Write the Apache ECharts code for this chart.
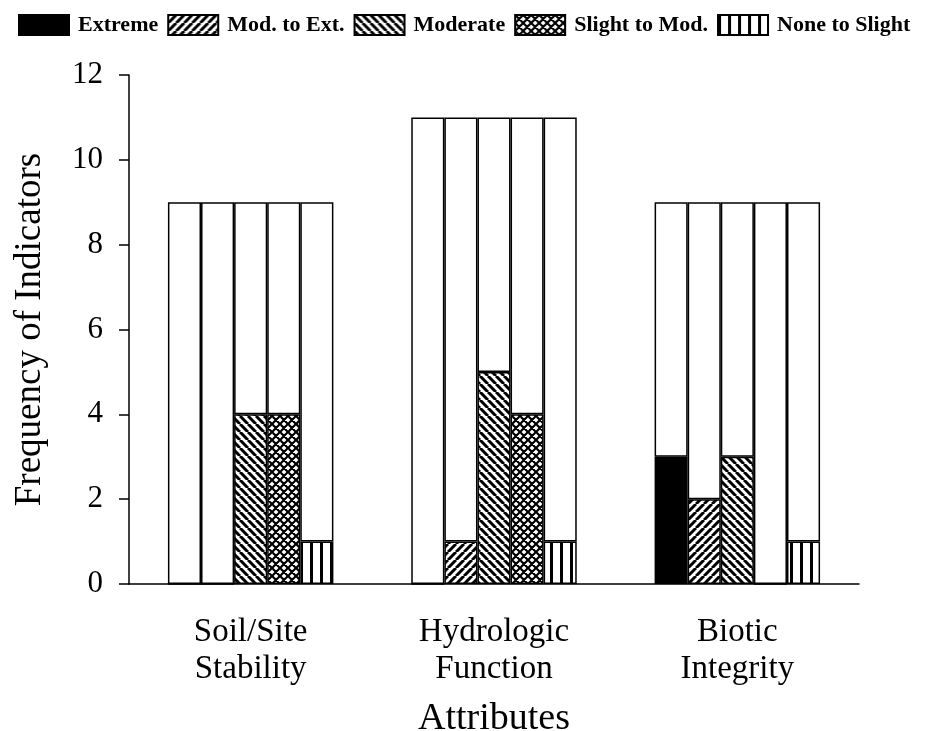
<!DOCTYPE html>
<html>
<head>
<meta charset="utf-8">
<script src="https://cdn.jsdelivr.net/npm/echarts@6/dist/echarts.min.js"></script>
<style>
html,body{margin:0;padding:0;background:#fff;}
#chart{width:927px;height:731px;}
</style>
</head>
<body>
<div id="chart"></div>
<script>
// ---- data ----
const categories = ['Soil/Site\nStability', 'Hydrologic\nFunction', 'Biotic\nIntegrity'];
const totals = [9, 11, 9];
const levels = ['Extreme', 'Mod. to Ext.', 'Moderate', 'Slight to Mod.', 'None to Slight'];
const extreme = [0, 0, 3];
const modToExt = [0, 1, 2];
const moderate = [4, 5, 3];
const slightToMod = [4, 4, 0];
const noneToSlight = [1, 1, 1];
const yTicks = [0, 2, 4, 6, 8, 10, 12];

const values = [extreme, modToExt, moderate, slightToMod, noneToSlight];

function makePattern(kind) {
  const c = document.createElement('canvas');
  let w = 8, h = 8;
  if (kind === 'x') { w = h = 8; }
  if (kind === '|') { w = 10; h = 4; }
  c.width = w; c.height = h;
  const ctx = c.getContext('2d');
  ctx.fillStyle = '#fff';
  ctx.fillRect(0, 0, w, h);
  ctx.strokeStyle = '#000';
  ctx.fillStyle = '#000';
  if (kind === '|') {
    ctx.fillRect(0, 0, 3, h);
  } else {
    ctx.lineWidth = kind === 'x' ? 2.2 : 3;
    ctx.beginPath();
    for (let k = -1; k <= 1; k++) {
      if (kind === '/' || kind === 'x') {
        ctx.moveTo(k * w, h); ctx.lineTo(k * w + w, 0);
      }
      if (kind === '\\' || kind === 'x') {
        ctx.moveTo(k * w, 0); ctx.lineTo(k * w + w, h);
      }
    }
    ctx.stroke();
  }
  return { image: c, repeat: 'repeat' };
}

const fills = ['#000', makePattern('/'), makePattern('\\'), makePattern('x'), makePattern('|')];

const series = [];
levels.forEach((name, i) => {
  series.push({
    name: name, type: 'bar', stack: 's' + i,
    data: values[i],
    barGap: '0%', barCategoryGap: '32%',
    itemStyle: { color: fills[i], borderColor: '#000', borderWidth: 1.5 },
    emphasis: { disabled: true }
  });
  series.push({
    name: 'rest' + i, type: 'bar', stack: 's' + i,
    data: totals.map((t, j) => t - values[i][j]),
    barGap: '0%', barCategoryGap: '32%',
    itemStyle: { color: '#fff', borderColor: '#000', borderWidth: 1.5 },
    emphasis: { disabled: true }
  });
});

const font = 'Liberation Serif';
const chart = echarts.init(document.getElementById('chart'), null, { renderer: 'canvas' });
chart.setOption({
  animation: false,
  backgroundColor: '#fff',
  legend: {
    data: levels,
    left: 13, top: 9,
    itemWidth: 50, itemHeight: 20, itemGap: 9,
    icon: 'rect',
    textStyle: { fontFamily: font, fontWeight: 'bold', fontSize: 22, color: '#000', padding: [0, 0, 0, 4] }
  },
  grid: { left: 129, right: 68, top: 75, bottom: 147, containLabel: false, outerBoundsMode: 'none' },
  xAxis: {
    type: 'category',
    data: categories,
    name: 'Attributes',
    nameLocation: 'middle',
    nameGap: 116,
    nameTextStyle: { fontFamily: font, fontSize: 38, color: '#000' },
    axisLine: { lineStyle: { color: '#000', width: 1.5 } },
    axisTick: { alignWithLabel: true, length: 8, lineStyle: { color: '#000', width: 1.5 } },
    axisLabel: { fontFamily: font, fontSize: 33, lineHeight: 37, color: '#000', margin: 30 }
  },
  yAxis: {
    type: 'value',
    min: yTicks[0], max: yTicks[yTicks.length - 1], interval: 2,
    name: 'Frequency of Indicators',
    nameLocation: 'middle',
    nameGap: 80,
    nameTextStyle: { fontFamily: font, fontSize: 37, color: '#000' },
    splitLine: { show: false },
    axisLine: { show: true, lineStyle: { color: '#000', width: 1.5 } },
    axisTick: { show: true, length: 10, lineStyle: { color: '#000', width: 1.5 } },
    axisLabel: { fontFamily: font, fontSize: 31, color: '#000', margin: 26 }
  },
  series: series
});
</script>
</body>
</html>
